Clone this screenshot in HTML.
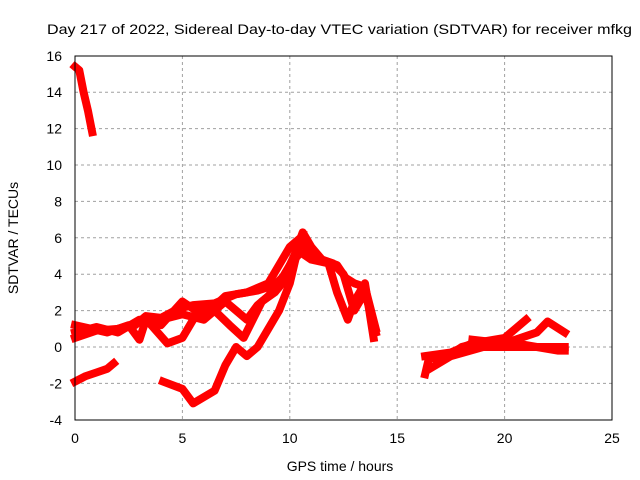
<!DOCTYPE html>
<html><head><meta charset="utf-8"><style>
body{margin:0;background:#fff;}
svg{display:block;font-family:"Liberation Sans",sans-serif;}
</style></head><body>
<svg id="chart" width="640" height="480" viewBox="0 0 640 480" xmlns="http://www.w3.org/2000/svg">
<rect width="640" height="480" fill="#fff"/>
<text x="47" y="34" font-size="14" textLength="585" lengthAdjust="spacingAndGlyphs" fill="#000">Day 217 of 2022, Sidereal Day-to-day VTEC variation (SDTVAR) for receiver mfkg</text>
<g id="grid"></g>
<g id="ticks"></g>
<g id="series"></g>
<rect x="75" y="56" width="537" height="364" fill="none" stroke="#000" stroke-width="1"/>
<text x="340" y="471" font-size="14" text-anchor="middle">GPS time / hours</text>
<text transform="translate(18,238) rotate(-90)" font-size="14" text-anchor="middle">SDTVAR / TECUs</text>
</svg>
<script>
const xTicks=[0,5,10,15,20,25];
const yTicks=[-4,-2,0,2,4,6,8,10,12,14,16];
const traceA=[[0,15.4],[0.2,15.2],[0.4,14],[0.6,13],[0.8,11.8]];
const traceB=[[0,-1.9],[0.5,-1.6],[1,-1.4],[1.5,-1.2],[1.8,-0.9]];
const traceC1=[[0,0.5],[1,0.9],[2,1.0],[2.8,1.2],[3.3,1.7],[4,1.6],[4.8,2.1],[5.5,2.3],[6.5,2.4],[7.5,2.9],[8.5,3.1],[9.3,3.4],[9.8,4],[10.2,5],[10.6,6.3],[11,5.5],[11.5,4.8],[12.2,4.5],[12.6,3.8],[13,3.5],[13.5,3.3],[14,1]];
const traceC2=[[0,1.2],[1.5,0.8],[2.5,1.2],[3,0.4],[3.3,1.5],[4,1.5],[5,1.8],[6,1.5],[7,2.5],[7.5,2],[8,1.5],[8.5,2.3],[9,2.8],[9.5,3.5],[10,4.5],[10.5,5.2],[11,4.8],[11.8,4.6],[12.2,3],[12.7,1.5],[13,2.5],[13.5,3.5],[13.9,0.5]];
const traceC3=[[3.4,1.4],[4.3,0.2],[5,0.5],[5.5,1.5],[6,2],[6.5,2],[7.2,1.2],[7.85,0.5],[8.7,2.5],[9.3,3],[10,4]];
const traceC4=[[0,0.8],[1,1.1],[2,0.8],[3,1.5],[4,1.2],[5,2.5],[6,1.7],[7,2.8],[8,3],[9,3.5],[10,5.5],[10.5,6],[11,5],[12,4.6],[12.5,4],[13,2],[13.5,3],[14,0.8]];
const traceC5=[[4.1,-1.9],[5,-2.3],[5.5,-3.1],[6.5,-2.4],[7,-1],[7.5,0],[8,-0.5],[8.5,0],[9,1],[9.5,2],[10,3.5],[10.3,5],[10.6,6.2]];
const traceD1=[[16.3,-1.5],[16.5,-0.5],[17,-0.8],[18,0],[19,0.3],[20,0.5],[20.5,1],[21,1.5]];
const traceD2=[[16.3,-0.5],[17.5,-0.3],[18.5,0.2],[20,0.3],[21.5,0],[22.5,-0.2],[22.8,-0.2]];
const traceD3=[[18.5,0.4],[20,0.2],[21.5,0.8],[22,1.4],[22.8,0.8]];
const traceD4=[[16.5,-1.2],[17.5,-0.5],[19,0],[20.5,0],[22,0],[22.8,0]];
const traces=[traceA,traceB,traceC1,traceC2,traceC3,traceC4,traceC5,traceD1,traceD2,traceD3,traceD4];
const X=v=>75+v*21.48, Y=v=>347-v*18.2;
const NS="http://www.w3.org/2000/svg";
const grid=document.getElementById('grid'),ticks=document.getElementById('ticks'),ser=document.getElementById('series');
function mk(tag,attrs,parent){const e=document.createElementNS(NS,tag);for(const k in attrs)e.setAttribute(k,attrs[k]);parent.appendChild(e);return e;}
xTicks.forEach(t=>{
  if(t>0&&t<25){const l=mk('line',{x1:X(t),x2:X(t),y1:56,y2:420,stroke:'#a0a0a0','stroke-dasharray':'3,3'},grid);
  
  }
  const tx=mk('text',{x:X(t),y:443,'font-size':14,'text-anchor':'middle'},ticks);tx.textContent=t;
  
  
});
yTicks.forEach(t=>{
  if(t>-4&&t<16){const l=mk('line',{x1:75,x2:612,y1:Y(t),y2:Y(t),stroke:'#a0a0a0','stroke-dasharray':'3,3'},grid);
  
  }
  const tx=mk('text',{x:62,y:Y(t)+5,'font-size':14,'text-anchor':'end'},ticks);tx.textContent=t;
  
  
});
traces.forEach(tr=>{
  const p=mk('polyline',{points:tr.map(d=>X(d[0])+','+Y(d[1])).join(' '),fill:'none',stroke:'#ff0000','stroke-width':8,'stroke-linejoin':'round','stroke-linecap':'square'},ser);
  
  
});
</script>
</body></html>
